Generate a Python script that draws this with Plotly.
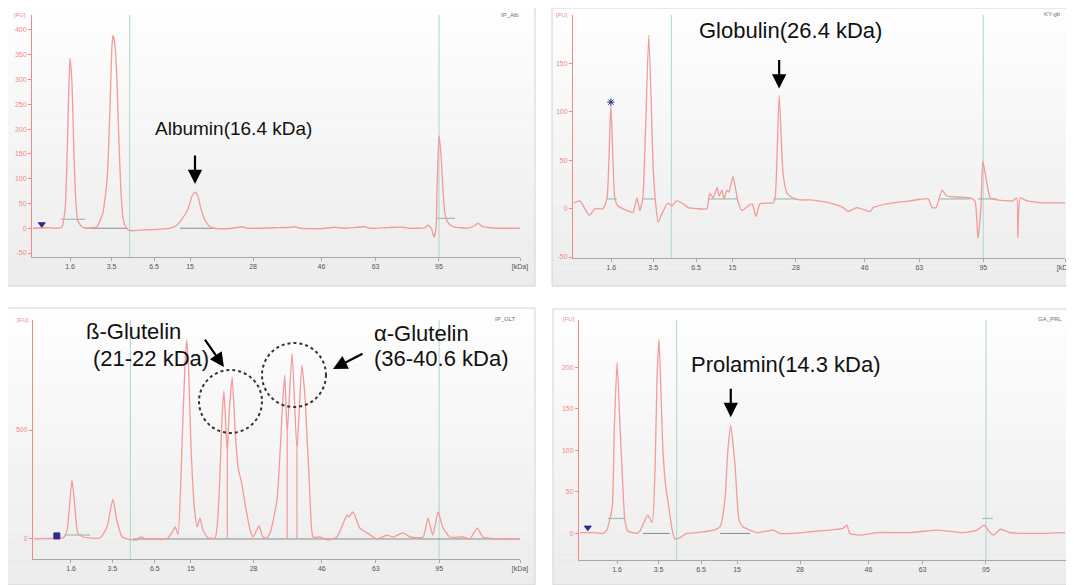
import plotly.graph_objects as go

# page is 1074x585; the browser body keeps an 8px margin, so the figure is offset by 8px
PAGE_W, PAGE_H = 1074, 585
OFF = 8
W, H = PAGE_W - OFF, PAGE_H - OFF

# ---------------- data ----------------
tick_vals = [7.8, 16.3, 25.0, 32.4, 45.3, 59.3, 70.4, 83.4, 100]
tick_text = ["1.6", "3.5", "6.5", "15", "28", "46", "63", "95", "[kDa]"]
ladder_lines = [20.0, 83.4]

# Albumin (IP_Alb)
alb_x = [0.2, 2.7, 4.7, 6.1, 6.8, 7.2, 7.6, 7.8, 8.2, 8.6, 9.0, 9.4, 10.2, 11.1, 12.3, 13.3, 14.5, 15.4, 16.0, 16.4,
         16.6, 17.0, 17.4, 17.8, 18.2, 18.6, 19.1, 19.7, 20.3, 22.1, 24.2, 26.2, 28.3, 29.5, 30.7, 32.0, 32.8, 33.4, 34.0, 34.6,
         35.5, 36.5, 37.5, 39.5, 41.6, 43.0, 44.3, 46.7, 49.8, 52.9, 53.9, 54.9, 59.0, 62.1, 64.1, 68.2, 69.3, 72.3, 74.4, 76.0,
         77.5, 80.5, 81.1, 81.8, 82.4, 82.8, 83.0, 83.4, 83.8, 84.2, 84.6, 85.2, 86.1, 87.7, 89.8, 90.8, 91.4, 92.2, 93.9, 96.9, 100]
alb_y = [0, 1, 0, 2, 40, 150, 300, 343, 290, 150, 50, 15, 3, 0, 1, 3, 30, 100, 250, 370,
         389, 370, 300, 180, 80, 25, 5, -3, -5, -4, -3, -2, 0, 5, 18, 40, 65, 73, 65, 40,
         15, 3, 0, -1, 1, 3, 0, 0, 1, 2, 3, 0, -1, 2, 0, 3, 0, 1, 2, 2,
         0, 1, 6, 0, -18, 0, 80, 187, 150, 80, 30, 12, 4, 1, 1, 6, 10, 4, 1, 0, 0]

# Globulin (KY-gb)
glob_x = [0.2, 1.4, 3.3, 4.5, 6.1, 6.9, 7.7, 8.5, 9.1, 11.0, 12.2, 13.0, 13.6, 14.2, 15.4, 16.3, 16.7, 17.3, 18.1, 19.3,
          20.1, 21.1, 22.4, 23.4, 25.2, 27.2, 27.8, 28.5, 29.3, 29.7, 30.3, 30.7, 31.3, 31.7, 32.5, 33.1, 33.5, 34.3, 35.4, 36.4,
          37.2, 38.0, 40.7, 41.1, 41.9, 42.7, 43.5, 44.7, 46.1, 47.6, 48.2, 52.2, 54.9, 55.9, 57.7, 60.4, 61.0, 63.8, 68.5, 72.2,
          73.0, 73.8, 75.0, 76.0, 80.7, 81.7, 82.3, 82.9, 83.3, 84.1, 84.8, 86.2, 89.4, 90.2, 90.4, 90.9, 92.3, 95.5, 100]
glob_y = [6, 8, -7, 0, 0, 10, 107, 11, 3, -2, -4, 11, -2, 11, 179, 42, 11, -14, -5, 6,
          3, 8, 5, 1, 0, 0, 16, 11, 22, 13, 19, 10, 19, 17, 33, 19, 8, -2, 2, 5,
          -8, 5, 6, 11, 117, 36, 16, 11, 9, 9, 9, 6, 1, -3, 1, -3, 1, 5, 8, 10,
          1, 1, 19, 13, 11, 8, -31, 1, 49, 27, 11, 9, 8, 11, -30, 11, 8, 6, 6]

# Glutelin (IP_GLT)
glut_x = [0.2, 3.5, 6.2, 7.0, 8.0, 8.6, 9.2, 10.3, 13.8, 15.2, 16.4, 17.2, 18.3, 19.3, 21.4, 22.0, 23.4, 27.5, 28.5, 29.2,
          29.8, 30.4, 31.2, 31.6, 32.0, 32.4, 33.1, 33.7, 34.3, 34.9, 35.9, 37.4, 38.2, 38.8, 39.2, 39.6, 39.9, 40.2, 40.9, 41.5,
          42.1, 42.9, 43.7, 44.6, 45.2, 46.4, 47.2, 48.0, 48.7, 50.1, 51.3, 51.7, 52.2, 53.2, 54.2, 55.2, 55.9, 56.9, 57.5, 58.9,
          60.6, 62.4, 64.5, 64.9, 65.7, 67.1, 68.6, 70.6, 72.7, 73.9, 76.0, 77.4, 80.1, 81.1, 82.1, 83.2, 84.2, 85.6, 88.3, 89.7,
          91.2, 92.4, 96.5, 100]
glut_y = [0, 2, 5, 41, 271, 147, 28, 9, 5, 55, 183, 87, 9, 0, -5, 9, 0, 0, 28, 55,
          20, 300, 800, 913, 750, 450, 150, 55, 96, 41, 5, 5, 200, 550, 679, 520, 394, 550, 743, 500,
          330, 250, 140, 40, 9, 60, 9, 5, 28, 179, 638, 752, 486, 853, 408, 798, 638, 179, 9, 9,
          -5, 9, 110, 101, 124, 50, 28, 0, 18, 9, 28, 9, 9, 96, 18, 124, 50, 9, 9, 0,
          50, 9, 0, 0]
glut_drop_x = [39.9, 52.2, 54.2]
glut_drop_top = [394, 486, 408]

# Prolamin (GA_PRL)
prol_x = [0.2, 2.9, 4.9, 5.7, 6.8, 7.2, 7.8, 8.4, 8.8, 9.4, 10.0, 11.9, 12.5, 13.5, 14.1, 15.0, 15.6, 16.0, 16.4, 16.8,
          17.2, 17.8, 18.2, 19.1, 19.7, 20.7, 22.1, 24.2, 27.5, 28.9, 29.9, 30.5, 31.1, 31.6, 32.0, 32.8, 33.6, 34.6, 36.5, 39.8,
          41.2, 45.9, 47.3, 51.4, 54.1, 54.9, 55.5, 57.6, 61.1, 67.8, 73.4, 78.7, 81.6, 83.0, 84.2, 85.0, 86.3, 88.3, 95.1, 99.6]
prol_y = [1, 1, 0, 4, 31, 120, 206, 130, 80, 16, 3, 0, 3, 16, 22, 13, 80, 190, 234, 170,
          100, 55, 40, 4, -7, -5, 0, 1, 4, 8, 40, 100, 130, 105, 80, 16, 8, 5, 1, 4,
          0, 1, 2, 4, 6, 10, 0, -2, 1, 1, 4, 1, 4, 10, 1, -2, 5, 1, 0, 1]

# peak-integration segments [x0, x1, level] and baseline segments
alb_int = [[5.9, 10.9, 18], [83.0, 86.7, 20]]
glob_int = [[6.7, 8.9, 10], [14.2, 16.7, 10], [27.4, 33.3, 10], [40.7, 45.5, 10], [74.6, 80.7, 10], [82.3, 86.2, 10]]
glut_int = [[6.6, 11.7, 18]]
prol_int = [[5.9, 9.4, 18], [82.6, 84.8, 18]]
alb_base = [[10.9, 19.5, 0], [30.3, 37.1, 0]]
glob_base = []
glut_base = [[20.5, 100, 0]]
prol_base = [[13.1, 18.6, 0], [28.9, 35.0, 0]]

# lower-marker symbols [x, y]
alb_mark = [2.0, 8]
glob_mark = [7.7, 110]
glut_mark = [4.9, 14]
prol_mark = [1.8, 7]

# ---------------- styling / layout ----------------
TRACE = "#f39a9a"
AXRED = "#f08a8a"
GREEN = "#b9dbd3"
INTCOL = "#98c2b4"
BASECOL = "#8a8a8a"

panels = [
    dict(x=alb_x, y=alb_y, label="IP_Alb", frame=(7, 6, 535, 286), plot=(32, 15, 520, 257),
         yr=[-58, 430], yt=list(range(-50, 401, 50)), integ=alb_int, base=alb_base, mark=alb_mark,
         msym="triangle-down", corner=(510, 15), fu=(20, 15)),
    dict(x=glob_x, y=glob_y, label="KY-gb", frame=(552, 8, 1074, 286), plot=(573, 15, 1065, 258),
         yr=[-51, 200], yt=[-50, 0, 50, 100, 150], integ=glob_int, base=glob_base, mark=glob_mark,
         msym="asterisk-open", corner=(1052, 14), fu=(562, 15)),
    dict(x=glut_x, y=glut_y, label="IP_GLT", frame=(7, 308, 535, 585), plot=(33, 320, 520, 559),
         yr=[-92, 1005], yt=[0, 500], integ=glut_int, base=glut_base, mark=glut_mark,
         msym="square", corner=(505, 319), fu=(23, 320)),
    dict(x=prol_x, y=prol_y, label="GA_PRL", frame=(553, 309, 1074, 585), plot=(579, 320, 1067, 560),
         yr=[-32, 257], yt=[0, 50, 100, 150, 200], integ=prol_int, base=prol_base, mark=prol_mark,
         msym="triangle-down", corner=(1050, 319), fu=(569, 319)),
]


def fx(p):
    return (p - OFF) / W


def fy(p):
    return 1 - (p - OFF) / H


def segs(lst):
    xs, ys = [], []
    for x0, x1, lv in lst:
        xs += [x0, x1, None]
        ys += [lv, lv, None]
    return xs, ys


fig = go.Figure()
shapes = []
annotations = []
layout_axes = {}

for i, p in enumerate(panels):
    n = "" if i == 0 else str(i + 1)
    xa, ya = "x" + n, "y" + n
    x0, y0, x1, y1 = p["plot"]
    layout_axes["xaxis" + n] = dict(
        domain=[fx(x0), min(1.0, fx(x1))], range=[0, 100], anchor=ya, automargin=False,
        showline=True, linecolor="#a8a8a8", linewidth=1, mirror=False,
        ticks="outside", ticklen=3, tickcolor="#a8a8a8", tickwidth=1,
        tickvals=tick_vals, ticktext=tick_text, showgrid=False, zeroline=False,
        tickfont=dict(size=7, color="#555555", family="Liberation Sans, Arial"), fixedrange=True)
    layout_axes["yaxis" + n] = dict(
        domain=[fy(y1), fy(y0)], range=p["yr"], anchor=xa, automargin=False,
        showline=True, linecolor=AXRED, linewidth=1,
        ticks="outside", ticklen=3, tickcolor=AXRED, tickwidth=1,
        tickvals=p["yt"], ticktext=[str(v) for v in p["yt"]], showgrid=False, zeroline=False,
        tickfont=dict(size=7, color=AXRED, family="Liberation Sans, Arial"), fixedrange=True)

    # panel background with vertical gradient
    fx0, fy0, fx1, fy1 = p["frame"]
    nb = 30
    for k in range(nb):
        t = k / (nb - 1)
        c = int(round(254 - 18 * t))
        shapes.append(dict(type="rect", xref="paper", yref="paper", layer="below",
                           x0=fx(fx0), x1=fx(fx1),
                           y0=fy(fy0 + (fy1 - fy0) * (k + 1) / nb), y1=fy(fy0 + (fy1 - fy0) * k / nb),
                           fillcolor=f"rgb({c},{c},{c})", line=dict(width=0)))
    shapes.append(dict(type="rect", xref="paper", yref="paper", layer="below",
                       x0=fx(fx0), x1=fx(fx1), y0=fy(fy1), y1=fy(fy0),
                       fillcolor="rgba(0,0,0,0)", line=dict(color="#d2d2d2", width=1)))
    # ladder marker lines
    for lx in ladder_lines:
        shapes.append(dict(type="line", xref=xa, yref=ya + " domain", x0=lx, x1=lx, y0=0, y1=1,
                           layer="below", line=dict(color=GREEN, width=1.2)))

    # baseline segments
    if p["base"]:
        bx, by = segs(p["base"])
        fig.add_trace(go.Scatter(x=bx, y=by, mode="lines", xaxis=xa, yaxis=ya,
                                 line=dict(color=BASECOL, width=1), hoverinfo="skip", showlegend=False))
    # integration segments
    ix, iy = segs(p["integ"])
    fig.add_trace(go.Scatter(x=ix, y=iy, mode="lines", xaxis=xa, yaxis=ya,
                             line=dict(color=INTCOL, width=1.2), hoverinfo="skip", showlegend=False))
    # electropherogram
    fig.add_trace(go.Scatter(x=p["x"], y=p["y"], mode="lines", xaxis=xa, yaxis=ya,
                             line=dict(color=TRACE, width=1.3, shape="spline", smoothing=0.5),
                             showlegend=False, name=p["label"]))
    # marker
    fig.add_trace(go.Scatter(x=[p["mark"][0]], y=[p["mark"][1]], mode="markers", xaxis=xa, yaxis=ya,
                             marker=dict(symbol=p["msym"], size=6, color="#2b2b8c",
                                         line=dict(color="#2b2b8c", width=1)),
                             showlegend=False, hoverinfo="skip"))
    # corner label and [FU]
    annotations.append(dict(text=p["label"], xref="paper", yref="paper", x=fx(p["corner"][0]),
                            y=fy(p["corner"][1]), showarrow=False, xanchor="center", yanchor="middle",
                            font=dict(size=6, color="#707070", family="Liberation Sans, Arial")))
    annotations.append(dict(text="[FU]", xref="paper", yref="paper", x=fx(p["fu"][0]),
                            y=fy(p["fu"][1]), showarrow=False, xanchor="center", yanchor="middle",
                            font=dict(size=6, color=AXRED, family="Liberation Sans, Arial")))

# glutelin drop lines
dx, dy = [], []
for xv, tv in zip(glut_drop_x, glut_drop_top):
    dx += [xv, xv, None]
    dy += [0, tv, None]
fig.add_trace(go.Scatter(x=dx, y=dy, mode="lines", xaxis="x3", yaxis="y3",
                         line=dict(color=TRACE, width=1.2), hoverinfo="skip", showlegend=False))

TXT = dict(family="Arial, Liberation Sans, sans-serif", color="#111111")


def label(text, cx, cy, size, anchor="center"):
    annotations.append(dict(text=text, xref="paper", yref="paper", x=fx(cx), y=fy(cy),
                            showarrow=False, xanchor=anchor, yanchor="middle",
                            font=dict(size=size, **TXT)))


label("Albumin(16.4 kDa)", 233, 128, 19)
label("Globulin(26.4 kDa)", 790, 30, 22)
label("Prolamin(14.3 kDa)", 786, 364, 22)
label("ß-Glutelin", 84, 331, 22, "left")
label("(21-22 kDa)", 91, 358, 22, "left")
label("α-Glutelin", 372, 333, 22, "left")
label("(36-40.6 kDa)", 372, 358, 22, "left")


def arrow(xref, yref, x, y, ax, ay):
    annotations.append(dict(text="", xref=xref, yref=yref, x=x, y=y, ax=ax, ay=ay,
                            showarrow=True, arrowhead=2, arrowsize=1.3, arrowwidth=2.2,
                            arrowcolor="#000000", standoff=0))


arrow("x", "y", 33.4, 89, 0, -30)
arrow("x2", "y2", 41.9, 124, 0, -30)
arrow("x4", "y4", 31.1, 140, 0, -30)
arrow("x3", "y3", 39.2, 789, -20, -29)
arrow("x3", "y3", 61.6, 780, 31, -16)

for (cx0, cy0, cx1, cy1) in [(199, 370, 262, 433), (262, 343, 326, 407)]:
    shapes.append(dict(type="circle", xref="paper", yref="paper",
                       x0=fx(cx0), x1=fx(cx1), y0=fy(cy1), y1=fy(cy0),
                       line=dict(color="#333333", width=2, dash="dot")))

fig.update_layout(width=W, height=H, margin=dict(l=0, r=0, t=0, b=0, autoexpand=False),
                  paper_bgcolor="white", plot_bgcolor="rgba(0,0,0,0)",
                  shapes=shapes, annotations=annotations, showlegend=False, **layout_axes)

fig.write_html("out.html", config={"displayModeBar": False})
